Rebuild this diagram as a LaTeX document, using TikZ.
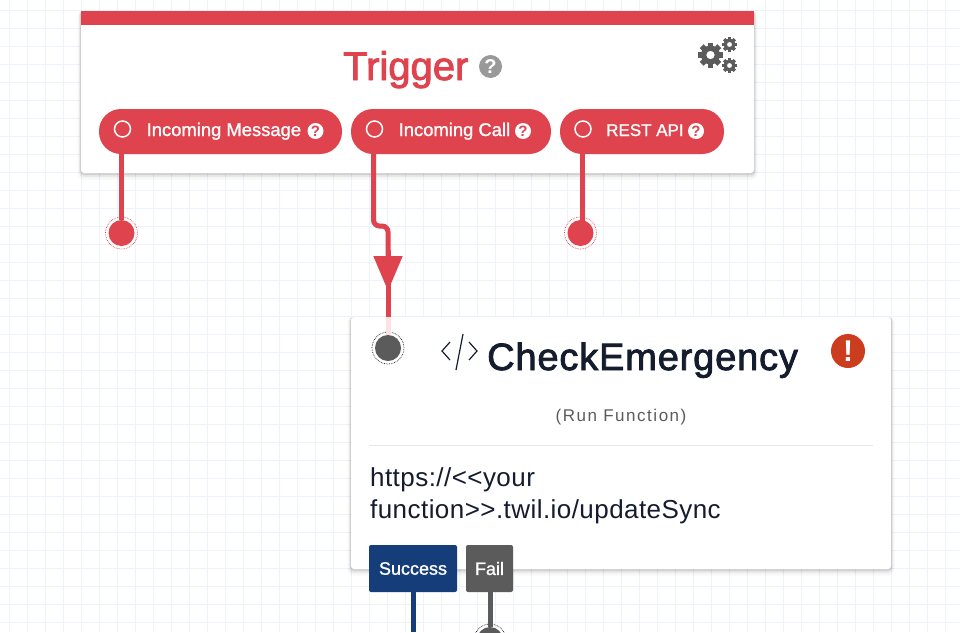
\documentclass[tikz,border=0pt]{standalone}
\usepackage{fontspec}
\setmainfont{Liberation Sans}
\newfontfamily\medfont[FakeBold=1.2]{Liberation Sans}
\newfontfamily\headfont[FakeBold=2.2]{Liberation Sans}
\newfontfamily\titlefont[FakeBold=2.2,LetterSpace=2.2]{Liberation Sans}
\newfontfamily\urlfont[LetterSpace=1.7]{Liberation Sans}
\newfontfamily\typefont[LetterSpace=9]{Liberation Sans}
\usetikzlibrary{arrows.meta,shapes,positioning,shadows}
\newcommand{\fsize}[1]{\fontsize{#1}{#1}\selectfont}
\definecolor{trigred}{HTML}{DF434E}
\definecolor{paleflow}{HTML}{FBE3E5}
\definecolor{portgray}{HTML}{5B5B5B}
\definecolor{navyflow}{HTML}{143D7A}
\definecolor{inkdark}{HTML}{141C2E}
\definecolor{errorred}{HTML}{CC3D1F}
\definecolor{gridblue}{HTML}{ECF3FB}
\tikzset{
    gridline/.style={draw=gridblue, line width=1pt},
    cardshadow/.style={
        general shadow={draw=black, line width=7pt, opacity=.03, shadow yshift=-3pt},
        general shadow={draw=black, line width=4pt, opacity=.06, shadow yshift=-2pt},
        general shadow={draw=black, line width=2pt, opacity=.10, shadow yshift=-1pt}},
    card/.style={rectangle, fill=white, rounded corners=3pt, inner sep=0pt, cardshadow},
    pill/.style={rectangle, fill=trigred, rounded corners=22pt, inner sep=0pt, minimum height=45pt},
    pilltext/.style={text=white, anchor=base west, inner sep=0pt, font=\medfont\fsize{18.4}},
    radio/.style={circle, draw=white, line width=1.5pt, minimum size=16pt, inner sep=0pt},
    helpdot/.style={circle, fill=white, text=trigred, inner sep=0pt, minimum size=16pt, font=\bfseries\fsize{15}},
    flow/.style={draw=#1, line width=5pt},
    port/.style={circle, fill=#1, minimum size=26pt, inner sep=0pt},
    portring/.style={circle, draw=#1, densely dotted, line width=.7pt, minimum size=32pt, inner sep=0pt},
    exit/.style={rectangle, fill=#1, text=white, rounded corners=2pt, inner sep=0pt, minimum height=47pt, font=\medfont\fsize{18}},
    pics/gearicon/.style={code={
        \foreach \ang in {0,45,...,315}
            \fill[portgray, rotate=\ang] (-.22,-1) rectangle (.22,-.6);
        \fill[portgray, even odd rule] (0,0) circle (.76) (0,0) circle (.34);
    }}
}
\begin{document}
\begin{tikzpicture}[x=1pt,y=-1pt]
    \useasboundingbox (0,0) rectangle (960,632);
    \fill[white] (0,0) rectangle (960,632);
    \foreach \gx in {9,27,...,960}
        \draw[gridline] (\gx,0) -- (\gx,632);
    \foreach \gy in {10,28,...,632}
        \draw[gridline] (0,\gy) -- (960,\gy);

    % trigger card
    \node[card, minimum width=673pt, minimum height=162pt] (trigger) at (417.5,92) {};
    \fill[trigred] (81,11) rectangle (754,25);
    \node[anchor=base west, inner sep=0pt, text=trigred, font=\headfont\fsize{40}] (triggertitle) at (343,80) {Trigger};
    \node[circle, fill=black!40, text=white, inner sep=0pt, minimum size=23pt, font=\bfseries\fsize{20}] (triggerhelp) at (490.5,66.5) {?};
    \pic[scale=12.5] at (710.5,55) {gearicon};
    \pic[scale=7.5] at (729.5,44.5) {gearicon};
    \pic[scale=7.5] at (729.5,65.5) {gearicon};

    % exits of the trigger
    \node[port=trigred] (msgport) at (121.5,233) {};
    \node[portring=trigred] at (msgport) {};
    \node[port=trigred] (restport) at (580.5,233) {};
    \node[portring=trigred] at (restport) {};
    \node[pill, minimum width=243pt] (msgpill) at (220.5,131.5) {};
    \node[pill, minimum width=200pt] (callpill) at (451,131.5) {};
    \node[pill, minimum width=164pt] (restpill) at (642,131.5) {};
    \coordinate (restexit) at (582,154);
    \draw[flow=trigred] (msgpill.south -| msgport) -- (msgport);
    \draw[flow=trigred] (restexit) -- (restexit |- restport);

    \node[radio] (msgradio) at (122.5,129) {};
    \node[pilltext] (msglabel) at (146.5,136) {Incoming Message};
    \node[helpdot] (msghelp) at (315.5,131) {?};
    \node[radio] (callradio) at (374.5,129) {};
    \node[pilltext] (calllabel) at (398.5,136) {Incoming Call};
    \node[helpdot] (callhelp) at (523,131) {?};
    \node[radio] (restradio) at (583,129) {};
    \node[pilltext, font=\medfont\fsize{17}] (restlabel) at (606,136) {REST API};
    \node[helpdot] (resthelp) at (696,131) {?};

    % function card
    \node[card, minimum width=540pt, minimum height=252pt] (func) at (621,443) {};
    \node[port=portgray] (funcport) at (388,348) {};
    \node[portring=inkdark] at (funcport) {};
    \coordinate (callbend) at (373.5,226);
    \coordinate (calltip) at (388,291);
    \draw[flow=trigred, rounded corners=6pt] (callpill.south -| callbend) -- (callbend) -- (callbend -| calltip) -- (calltip |- 0,256);
    \draw[flow=trigred, -{Triangle[length=35pt,width=28pt]}] (calltip |- 0,250) -- (calltip);
    \draw[flow=trigred] (calltip |- 0,284) -- (calltip |- func.north);
    \draw[flow=paleflow] (calltip |- func.north) -- (funcport.north);
    \draw[inkdark, line width=1.2pt] (450,342) -- (442,351) -- (450,360)
        (469,342) -- (477,351) -- (469,360) (463,334) -- (456,370);
    \node[anchor=base west, inner sep=0pt, text=inkdark, font=\titlefont\fsize{38}] (functitle) at (487,370) {CheckEmergency};
    \node[circle, fill=errorred, text=white, inner sep=0pt, minimum size=34pt, font=\bfseries\fsize{30}] (funcerror) at (848,351) {!};
    \node[text=portgray, font=\typefont\fsize{17}] (functype) at (621,417.5) {(Run Function)};
    \draw[black!9, line width=1pt] (369,445) -- (873,445);
    \node[anchor=base west, inner sep=0pt, text=inkdark, font=\urlfont\fsize{26}] (urlone) at (370,486) {https://<{}<your};
    \node[anchor=base west, inner sep=0pt, text=inkdark, font=\urlfont\fsize{26}] (urltwo) at (370,518) {function>{}>.twil.io/updateSync};

    % exits of the function
    \node[port=portgray] (failport) at (490,640) {};
    \node[portring=inkdark] at (failport) {};
    \coordinate (successend) at (413,632);
    \node[exit=navyflow, minimum width=88pt] (success) at (413,568.5) {Success};
    \node[exit=portgray, minimum width=47pt] (fail) at (489.5,568.5) {Fail};
    \draw[flow=navyflow] (success) ++(0,23.5) -- (successend);
    \draw[flow=portgray] (fail.south -| failport) -- (failport);
\end{tikzpicture}
\end{document}
